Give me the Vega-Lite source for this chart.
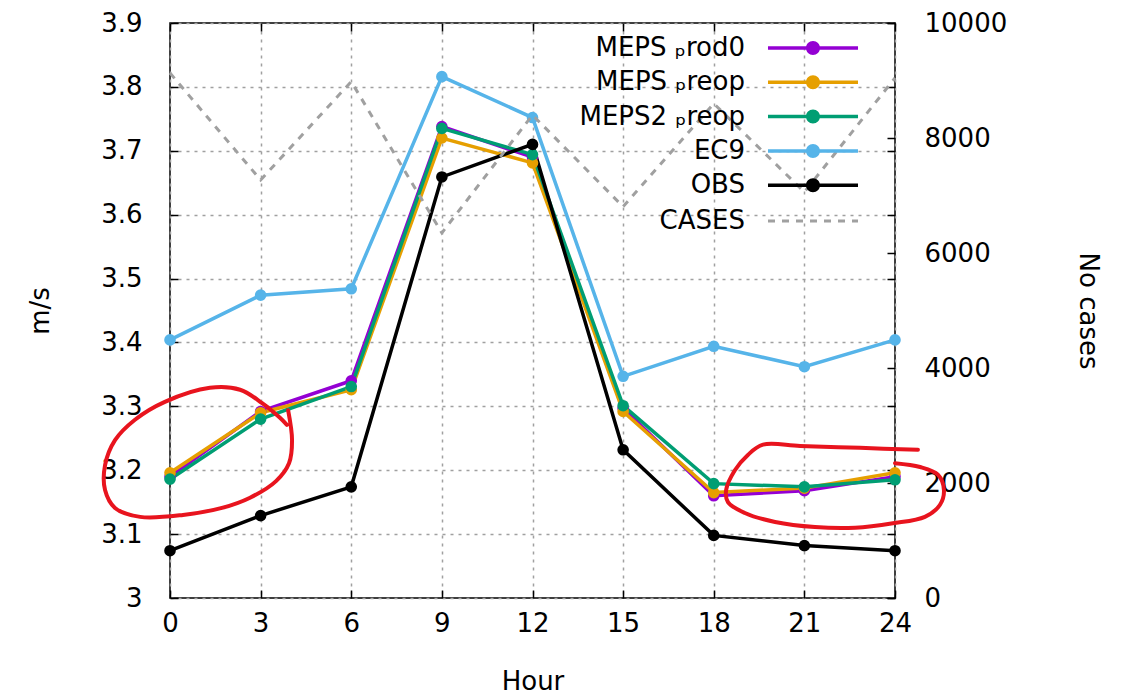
{
  "$schema": "https://vega.github.io/schema/vega-lite/v6.json",
  "width": 725,
  "height": 575,
  "autosize": "none",
  "padding": {"left": 170, "top": 23, "right": 227, "bottom": 99},
  "background": "white",
  "config": {
    "font": "DejaVu Sans",
    "view": {"stroke": "black", "strokeWidth": 1.5},
    "axis": {
      "labelFont": "DejaVu Sans", "labelFontSize": 26, "labelColor": "black", "labelFlush": false,
      "titleFont": "DejaVu Sans", "titleFontSize": 26, "titleFontWeight": "normal", "titleColor": "black",
      "tickColor": "black", "tickWidth": 1.5, "domain": false,
      "gridColor": "#a0a0a0", "gridDash": [3, 5], "gridWidth": 1.5
    },
    "legend": {"labelFont": "DejaVu Sans", "labelFontSize": 26, "labelColor": "black", "padding": 0, "offset": 0}
  },
  "datasets": {
    "series": [
      {"series": "MEPS_prod0", "hour": 0, "value": 3.19},
      {"series": "MEPS_prod0", "hour": 3, "value": 3.292},
      {"series": "MEPS_prod0", "hour": 6, "value": 3.34},
      {"series": "MEPS_prod0", "hour": 9, "value": 3.738},
      {"series": "MEPS_prod0", "hour": 12, "value": 3.69},
      {"series": "MEPS_prod0", "hour": 15, "value": 3.297},
      {"series": "MEPS_prod0", "hour": 18, "value": 3.16},
      {"series": "MEPS_prod0", "hour": 21, "value": 3.168},
      {"series": "MEPS_prod0", "hour": 24, "value": 3.19},
      {"series": "MEPS_preop", "hour": 0, "value": 3.196},
      {"series": "MEPS_preop", "hour": 3, "value": 3.29},
      {"series": "MEPS_preop", "hour": 6, "value": 3.326},
      {"series": "MEPS_preop", "hour": 9, "value": 3.72},
      {"series": "MEPS_preop", "hour": 12, "value": 3.681},
      {"series": "MEPS_preop", "hour": 15, "value": 3.292},
      {"series": "MEPS_preop", "hour": 18, "value": 3.165},
      {"series": "MEPS_preop", "hour": 21, "value": 3.172},
      {"series": "MEPS_preop", "hour": 24, "value": 3.196},
      {"series": "MEPS2_preop", "hour": 0, "value": 3.186},
      {"series": "MEPS2_preop", "hour": 3, "value": 3.28},
      {"series": "MEPS2_preop", "hour": 6, "value": 3.331},
      {"series": "MEPS2_preop", "hour": 9, "value": 3.735},
      {"series": "MEPS2_preop", "hour": 12, "value": 3.694},
      {"series": "MEPS2_preop", "hour": 15, "value": 3.301},
      {"series": "MEPS2_preop", "hour": 18, "value": 3.179},
      {"series": "MEPS2_preop", "hour": 21, "value": 3.174},
      {"series": "MEPS2_preop", "hour": 24, "value": 3.185},
      {"series": "EC9", "hour": 0, "value": 3.404},
      {"series": "EC9", "hour": 3, "value": 3.474},
      {"series": "EC9", "hour": 6, "value": 3.484},
      {"series": "EC9", "hour": 9, "value": 3.816},
      {"series": "EC9", "hour": 12, "value": 3.752},
      {"series": "EC9", "hour": 15, "value": 3.347},
      {"series": "EC9", "hour": 18, "value": 3.394},
      {"series": "EC9", "hour": 21, "value": 3.362},
      {"series": "EC9", "hour": 24, "value": 3.404},
      {"series": "OBS", "hour": 0, "value": 3.074},
      {"series": "OBS", "hour": 3, "value": 3.129},
      {"series": "OBS", "hour": 6, "value": 3.174},
      {"series": "OBS", "hour": 9, "value": 3.659},
      {"series": "OBS", "hour": 12, "value": 3.71},
      {"series": "OBS", "hour": 15, "value": 3.232},
      {"series": "OBS", "hour": 18, "value": 3.098},
      {"series": "OBS", "hour": 21, "value": 3.082},
      {"series": "OBS", "hour": 24, "value": 3.074}
    ],
    "cases": [
      {"kind": "CASES", "hour": 0, "cases": 9130},
      {"kind": "CASES", "hour": 3, "cases": 7270},
      {"kind": "CASES", "hour": 6, "cases": 8980},
      {"kind": "CASES", "hour": 9, "cases": 6350},
      {"kind": "CASES", "hour": 12, "cases": 8400},
      {"kind": "CASES", "hour": 15, "cases": 6805},
      {"kind": "CASES", "hour": 18, "cases": 8600},
      {"kind": "CASES", "hour": 21, "cases": 7060},
      {"kind": "CASES", "hour": 24, "cases": 9045}
    ],
    "annot": [
      {"id": "a", "i": 0, "hour": 3.91, "value": 3.294},
      {"id": "a", "i": 1, "hour": 4.04, "value": 3.247},
      {"id": "a", "i": 2, "hour": 3.94, "value": 3.211},
      {"id": "a", "i": 3, "hour": 3.51, "value": 3.183},
      {"id": "a", "i": 4, "hour": 2.65, "value": 3.157},
      {"id": "a", "i": 5, "hour": 1.72, "value": 3.141},
      {"id": "a", "i": 6, "hour": 0.43, "value": 3.13},
      {"id": "a", "i": 7, "hour": -0.99, "value": 3.127},
      {"id": "a", "i": 8, "hour": -1.82, "value": 3.141},
      {"id": "a", "i": 9, "hour": -2.15, "value": 3.169},
      {"id": "a", "i": 10, "hour": -2.15, "value": 3.208},
      {"id": "a", "i": 11, "hour": -1.82, "value": 3.247},
      {"id": "a", "i": 12, "hour": -1.16, "value": 3.279},
      {"id": "a", "i": 13, "hour": -0.17, "value": 3.307},
      {"id": "a", "i": 14, "hour": 1.32, "value": 3.329},
      {"id": "a", "i": 15, "hour": 2.32, "value": 3.326},
      {"id": "a", "i": 16, "hour": 3.05, "value": 3.305},
      {"id": "a", "i": 17, "hour": 3.64, "value": 3.282},
      {"id": "a", "i": 18, "hour": 3.87, "value": 3.271},
      {"id": "b", "i": 0, "hour": 24.76, "value": 3.232},
      {"id": "b", "i": 1, "hour": 22.84, "value": 3.235},
      {"id": "b", "i": 2, "hour": 20.86, "value": 3.238},
      {"id": "b", "i": 3, "hour": 19.63, "value": 3.24},
      {"id": "b", "i": 4, "hour": 19.13, "value": 3.224},
      {"id": "b", "i": 5, "hour": 18.7, "value": 3.2},
      {"id": "b", "i": 6, "hour": 18.41, "value": 3.169},
      {"id": "b", "i": 7, "hour": 18.47, "value": 3.15},
      {"id": "b", "i": 8, "hour": 19.03, "value": 3.133},
      {"id": "b", "i": 9, "hour": 20.03, "value": 3.119},
      {"id": "b", "i": 10, "hour": 21.35, "value": 3.111},
      {"id": "b", "i": 11, "hour": 22.68, "value": 3.11},
      {"id": "b", "i": 12, "hour": 23.93, "value": 3.117},
      {"id": "b", "i": 13, "hour": 24.99, "value": 3.127},
      {"id": "b", "i": 14, "hour": 25.49, "value": 3.146},
      {"id": "b", "i": 15, "hour": 25.62, "value": 3.169},
      {"id": "b", "i": 16, "hour": 25.42, "value": 3.193},
      {"id": "b", "i": 17, "hour": 24.83, "value": 3.205},
      {"id": "b", "i": 18, "hour": 24.0, "value": 3.211}
    ]
  },
  "layer": [
    {
      "layer": [
        {
          "data": {"name": "series"},
          "mark": {"type": "line", "strokeWidth": 3.5},
          "encoding": {
            "x": {"field": "hour", "type": "quantitative",
              "scale": {"domain": [0, 24], "nice": false, "zero": false},
              "axis": {"values": [0, 3, 6, 9, 12, 15, 18, 21, 24], "title": "Hour", "grid": true, "tickSize": -8, "labelPadding": 20, "titlePadding": 32}},
            "y": {"field": "value", "type": "quantitative",
              "scale": {"domain": [3, 3.9], "nice": false, "zero": false},
              "axis": {"values": [3, 3.1, 3.2, 3.3, 3.4, 3.5, 3.6, 3.7, 3.8, 3.9], "format": ".1~f", "title": "m/s", "grid": true, "tickSize": -8, "labelPadding": 36, "titlePadding": 47}},
            "stroke": {"field": "series", "type": "nominal",
              "scale": {"domain": ["OBS", "EC9", "MEPS2_preop", "MEPS_preop", "MEPS_prod0"], "range": ["#000000", "#56b4e9", "#009e73", "#e69f00", "#9400d3"]},
              "legend": null}
          }
        },
        {
          "data": {"name": "series"},
          "mark": {"type": "point", "filled": true, "shape": "circle", "size": 135, "opacity": 1, "strokeWidth": 0},
          "encoding": {
            "x": {"field": "hour", "type": "quantitative"},
            "y": {"field": "value", "type": "quantitative"},
            "fill": {"field": "series", "type": "nominal",
              "scale": {"domain": ["MEPS_prod0", "MEPS_preop", "MEPS2_preop", "EC9", "OBS"], "range": ["#9400d3", "#e69f00", "#009e73", "#56b4e9", "#000000"]},
              "legend": {"orient": "none", "legendX": 630, "legendY": 12, "title": null,
                "symbolType": "M-6.43,-0.25H6.43V0.25H-6.43Z M-1,0A1,1 0 1,1 1,0A1,1 0 1,1 -1,0Z",
                "symbolSize": 196, "symbolStrokeWidth": 0, "symbolOpacity": 1,
                "labelAlign": "right", "labelOffset": -81, "labelLimit": 0, "rowPadding": 8.3,
                "labelExpr": "replace(datum.label, '_p', ' ₚ')"}}
          }
        },
        {
          "data": {"name": "annot"},
          "mark": {"type": "line", "color": "#e8141e", "strokeWidth": 4, "interpolate": "catmull-rom", "clip": false, "strokeCap": "round"},
          "encoding": {
            "x": {"field": "hour", "type": "quantitative"},
            "y": {"field": "value", "type": "quantitative"},
            "detail": {"field": "id", "type": "nominal"},
            "order": {"field": "i", "type": "quantitative"}
          }
        }
      ]
    },
    {
      "data": {"name": "cases"},
      "mark": {"type": "line", "strokeWidth": 3, "color": "#a0a0a0"},
      "encoding": {
        "x": {"field": "hour", "type": "quantitative", "scale": {"domain": [0, 24], "nice": false, "zero": false}, "axis": null},
        "y": {"field": "cases", "type": "quantitative",
          "scale": {"domain": [0, 10000], "nice": false},
          "axis": {"orient": "right", "values": [0, 2000, 4000, 6000, 8000, 10000], "format": "d", "title": "No cases", "grid": false, "tickSize": -8, "labelPadding": 37, "titlePadding": 68}},
        "strokeDash": {"field": "kind", "type": "nominal",
          "scale": {"domain": ["CASES"], "range": [[7, 7]]},
          "legend": {"orient": "none", "legendX": 596.5, "legendY": 151.5, "title": null,
            "symbolType": "stroke", "symbolSize": 8100, "symbolStrokeColor": "#a0a0a0", "symbolStrokeWidth": 3,
            "labelAlign": "right", "labelOffset": -114.5, "labelLimit": 0}}
      }
    },
    {
      "data": {"name": "series"},
      "mark": {"type": "point", "opacity": 0},
      "encoding": {
        "x": {"field": "hour", "type": "quantitative", "scale": {"domain": [0, 24], "nice": false, "zero": false},
          "axis": {"orient": "top", "values": [0, 3, 6, 9, 12, 15, 18, 21, 24], "labels": false, "title": null, "grid": false, "tickSize": -8}},
        "y": {"field": "value", "type": "quantitative", "scale": {"domain": [3, 3.9], "nice": false, "zero": false},
          "axis": {"orient": "right", "values": [3, 3.1, 3.2, 3.3, 3.4, 3.5, 3.6, 3.7, 3.8, 3.9], "labels": false, "title": null, "grid": false, "tickSize": -8}}
      }
    }
  ],
  "resolve": {"scale": {"x": "independent", "y": "independent", "fill": "independent", "stroke": "independent", "strokeDash": "independent"}}
}
